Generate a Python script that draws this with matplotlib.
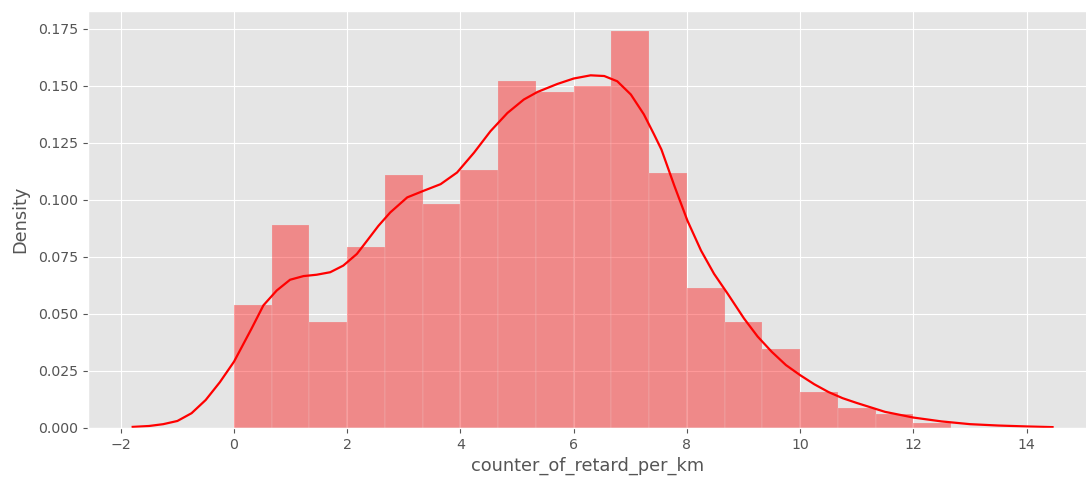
import numpy as np
import matplotlib
matplotlib.use("Agg")
import matplotlib.pyplot as plt

# histogram of counter_of_retard_per_km (density normalised, 19 bins from 0 to 12.67)
bin_edges = np.linspace(0, 12.667, 20)
bin_density = [0.0537, 0.0890, 0.0462, 0.0794, 0.1110, 0.0982, 0.1132, 0.1522,
               0.1474, 0.1497, 0.1738, 0.1118, 0.0615, 0.0462, 0.0345, 0.0157,
               0.0087, 0.0060, 0.0020]

# kernel density estimate curve
kde_x = [-1.79, -1.5, -1.25, -1.0, -0.75, -0.5, -0.25, 0.0, 0.31, 0.52,
         0.755, 0.99, 1.227, 1.46, 1.70, 1.93, 2.17, 2.35, 2.55, 2.76, 3.06,
         3.35, 3.65, 3.94, 4.24, 4.53, 4.83, 5.12, 5.36, 5.71, 6.0, 6.30,
         6.54, 6.77, 7.01, 7.24, 7.42, 7.55, 7.78, 8.01, 8.25, 8.48, 8.72,
         9.01, 9.25, 9.5, 9.75, 10.0, 10.25, 10.5, 10.75, 11.0, 11.5, 12.0,
         12.5, 13.0, 13.5, 14.0, 14.46]
kde_y = [0.0004, 0.0008, 0.0016, 0.0030, 0.0064, 0.0122, 0.0200, 0.0290,
         0.0435, 0.0537, 0.0602, 0.0649, 0.0665, 0.0671, 0.0682, 0.0711,
         0.0762, 0.0820, 0.0885, 0.0944, 0.1010, 0.1039, 0.1068, 0.1119,
         0.1206, 0.1300, 0.1380, 0.1439, 0.1472, 0.1507, 0.1531, 0.1545,
         0.1542, 0.1519, 0.1461, 0.1374, 0.1286, 0.1220, 0.1060, 0.0908,
         0.0777, 0.0675, 0.0588, 0.0479, 0.0400, 0.0333, 0.0275, 0.0231,
         0.0191, 0.0157, 0.0130, 0.0109, 0.0070, 0.0045, 0.0028, 0.0016,
         0.0010, 0.0006, 0.0003]

plt.style.use("ggplot")

fig = plt.figure(figsize=(10.86, 4.78), dpi=100)
ax = fig.add_axes([0.081, 0.105, 0.92, 0.872])

widths = np.diff(bin_edges)
ax.bar(bin_edges[:-1], bin_density, width=widths, align="edge",
       color="red", alpha=0.4, edgecolor="#EEEEEE", linewidth=0.3)
ax.plot(kde_x, kde_y, color="red", linewidth=1.6, solid_joinstyle="round")

ax.set_xlim(-2.58, 15.07)
ax.set_ylim(0, 0.1827)
ax.set_xticks(range(-2, 15, 2))
ax.set_yticks(np.arange(0, 0.176, 0.025))
ax.set_xlabel("counter_of_retard_per_km", fontsize=12.8)
ax.set_ylabel("Density", fontsize=12.8, labelpad=6)
ax.tick_params(labelsize=10.2)

fig.savefig("out.png", dpi=100)
